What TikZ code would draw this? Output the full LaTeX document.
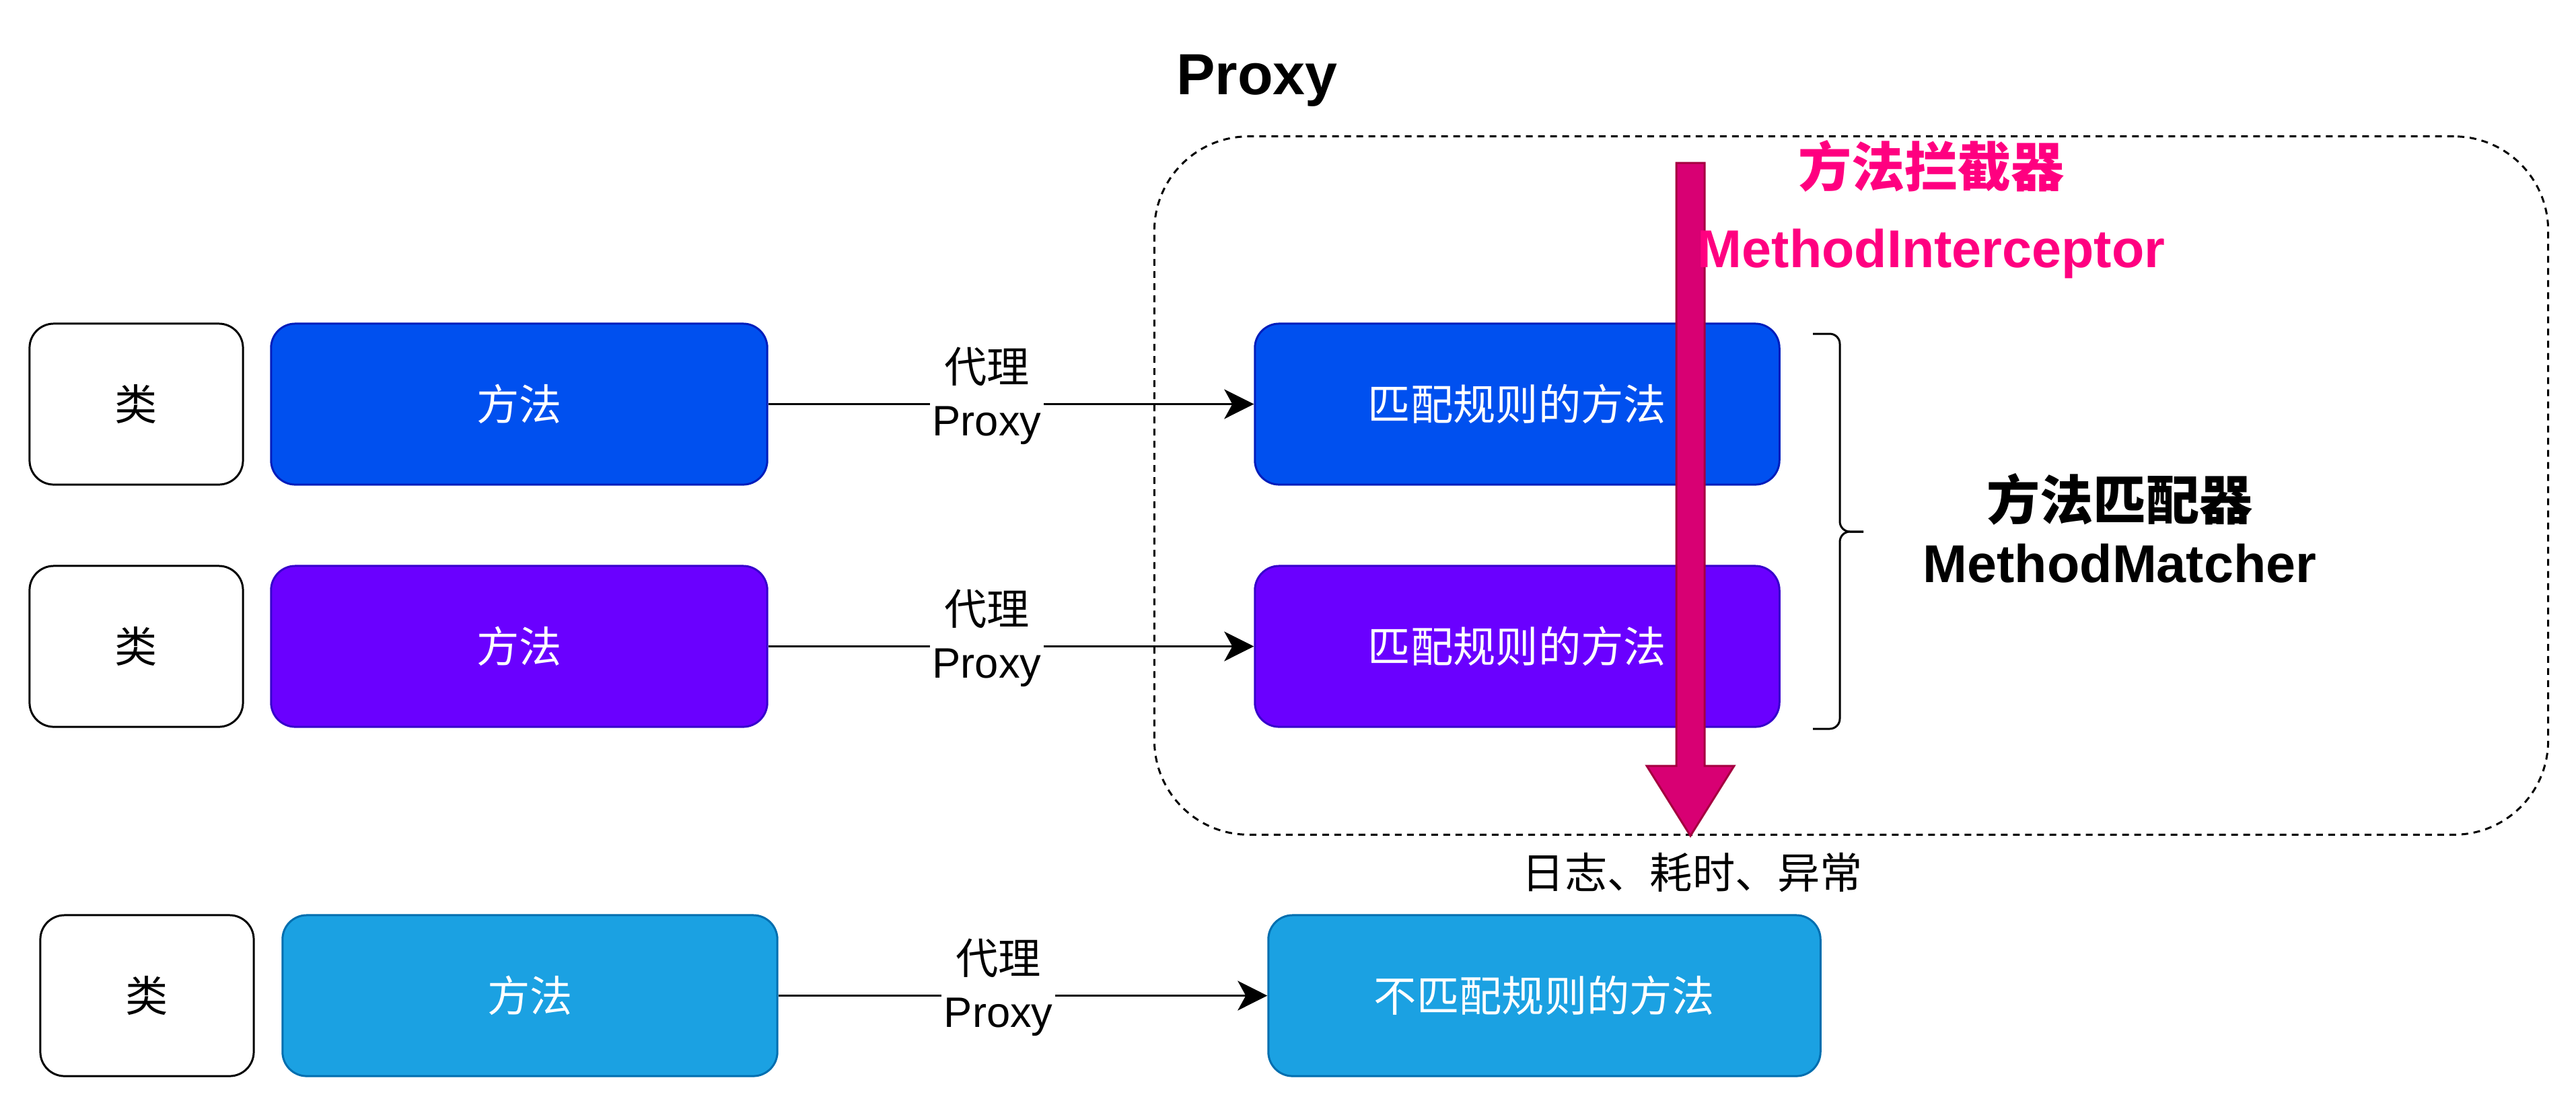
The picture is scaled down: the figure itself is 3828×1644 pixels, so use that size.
\documentclass[tikz,border=0pt]{standalone}
\usepackage{fontspec}
\setmainfont{Liberation Sans}
\newfontfamily\cjk{Noto Sans CJK SC}
\usepackage{tikz}
\usetikzlibrary{arrows.meta}

\definecolor{blueFill}{HTML}{0050EF}
\definecolor{blueLine}{HTML}{001DBC}
\definecolor{violetFill}{HTML}{6A00FF}
\definecolor{violetLine}{HTML}{3700CC}
\definecolor{cyanFill}{HTML}{1BA1E2}
\definecolor{cyanLine}{HTML}{006EAF}
\definecolor{magFill}{HTML}{D80073}
\definecolor{magLine}{HTML}{A50040}
\definecolor{pinkText}{HTML}{FF0080}

\begin{document}
\begin{tikzpicture}[
			x=0.01cm, y=-0.01cm,
			box style/.style={
				draw,
				line width=0.85pt,
				rounded corners=0.36cm,
				align=center,
				minimum height=2.39cm,
				font=\cjk\fontsize{18}{22}\selectfont
			},
			class style/.style={box style, fill=white, draw=black, minimum width=3.17cm},
			method style/.style={box style, text=white, minimum width=7.37cm},
			match style/.style={box style, text=white, minimum width=7.79cm},
			label style/.style={fill=white, inner sep=1pt, align=center, pos=0.45, yshift=0.12cm,
				font=\fontsize{18}{22.5}\selectfont},
			big style/.style={anchor=base, font=\bfseries\fontsize{22.5}{27}\selectfont},
			>={Stealth[length=0.44cm, width=0.44cm, inset=0.12cm]}
			]
			
			\useasboundingbox (0,0) rectangle (3828,1644);
			
			\node[draw, dashed, dash pattern=on 0.1cm off 0.08cm, line width=0.85pt,
				rounded corners=1.4cm, minimum width=20.70cm, minimum height=10.37cm] (proxy) at (2751,721.5) {};
			\node[anchor=base, font=\bfseries\fontsize{24.5}{29}\selectfont] (title) at (1868,140) {Proxy};
			
			\node[class style] (C1) at (202.5,600.5) {类};
			\node[method style, fill=blueFill, draw=blueLine] (M1) at (771.5,600.5) {方法};
			\node[match style, fill=blueFill, draw=blueLine] (P1) at (2254.5,600.5) {匹配规则的方法};
			
			\node[class style] (C2) at (202.5,960.5) {类};
			\node[method style, fill=violetFill, draw=violetLine] (M2) at (771.5,960.5) {方法};
			\node[match style, fill=violetFill, draw=violetLine] (P2) at (2254.5,960.5) {匹配规则的方法};
			
			\node[class style] (C3) at (218.5,1479.5) {类};
			\node[method style, fill=cyanFill, draw=cyanLine, minimum width=7.35cm] (M3) at (787.5,1479.5) {方法};
			\node[match style, fill=cyanFill, draw=cyanLine, minimum width=8.20cm] (P3) at (2295,1479.5) {不匹配规则的方法};
			
			\draw[->, line width=0.85pt] (M1) -- node[label style] {{\cjk 代理}\\Proxy} (P1);
			\draw[->, line width=0.85pt] (M2) -- node[label style] {{\cjk 代理}\\Proxy} (P2);
			\draw[->, line width=0.85pt] (M3) -- node[label style] {{\cjk 代理}\\Proxy} (P3);
			
			\draw[line width=0.85pt, rounded corners=0.15cm] (2694,496) -- (2734,496) -- (2734,790) -- (2769,790);
			\draw[line width=0.85pt, rounded corners=0.15cm] (2769,790) -- (2734,790) -- (2734,1083) -- (2694,1083);
			
			\filldraw[fill=magFill, draw=magLine, line width=0.85pt]
				(2491,242) -- (2533,242) -- (2533,1138) -- (2577,1138) -- (2512,1242)
				-- (2447,1138) -- (2491,1138) -- cycle;
			
			\node[big style, text=pinkText, font=\cjk\bfseries\fontsize{22.5}{27}\selectfont] (icn) at (2870,277) {方法拦截器};
			\node[big style, text=pinkText] (ien) at (2870,397) {MethodInterceptor};
			\node[big style, font=\cjk\bfseries\fontsize{22.5}{27}\selectfont] (mcn) at (3150,772) {方法匹配器};
			\node[big style] (men) at (3150,865) {MethodMatcher};
			
			\node[anchor=base, font=\cjk\fontsize{18}{22}\selectfont] (effects) at (2515,1320) {日志、耗时、异常};
			
		\end{tikzpicture}
\end{document}
